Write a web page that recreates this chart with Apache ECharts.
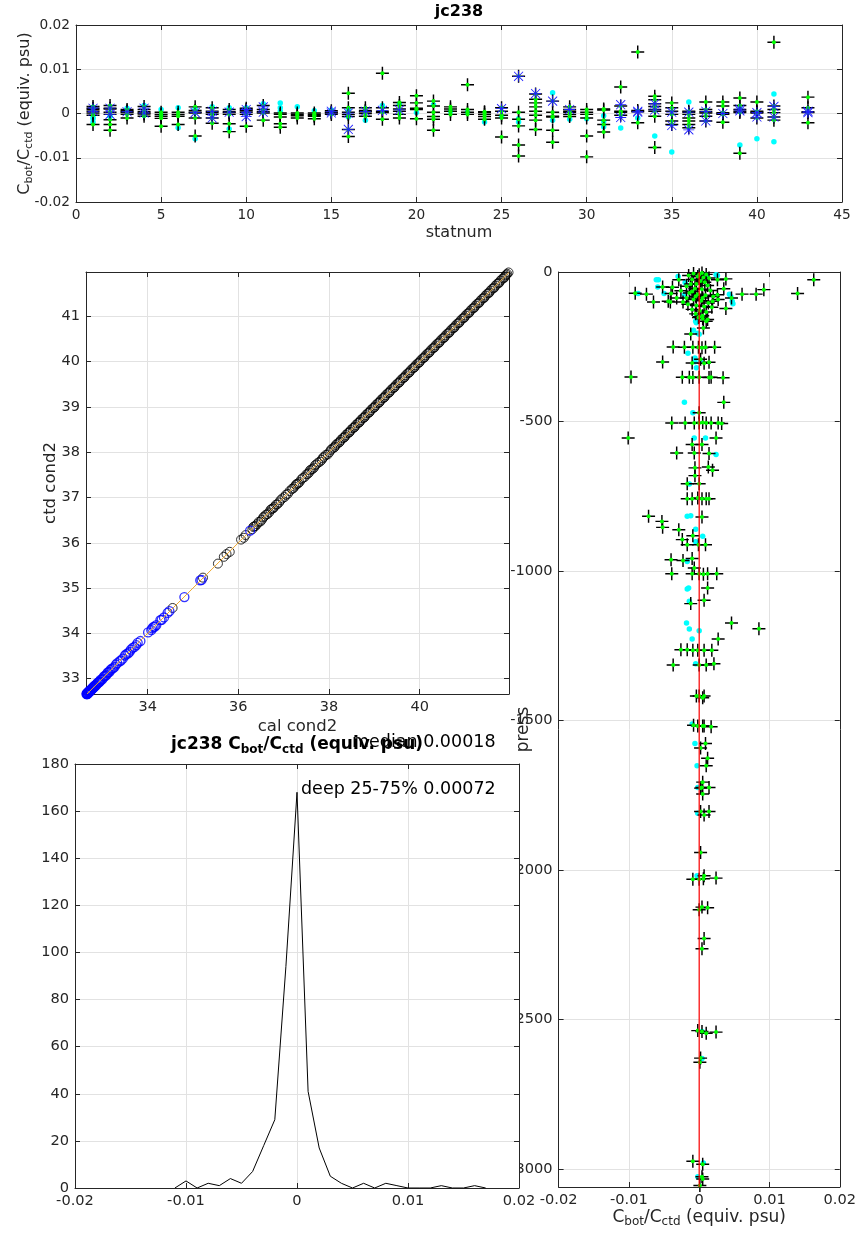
<!DOCTYPE html>
<html><head><meta charset="utf-8">
<script src="https://cdn.jsdelivr.net/npm/echarts@6/dist/echarts.min.js"></script>
<style>html,body{margin:0;padding:0;background:#fff}#c{width:859px;height:1234px}</style>
</head><body><div id="c"></div>
<script>
// ---------- data ----------
const topStations = [1,2,3,4,5,6,7,8,9,10,11,12,13,14,15,16,17,18,19,20,21,22,23,24,25,26,27,28,29,30,31,32,33,34,35,36,37,38,39,40,41,43];
const topGood = [
 [0.0016,0.0012,0.0009,0.0005,0.0001,-0.0004,-0.0025],
 [0.0018,0.0012,0.0010,0.0003,-0.0002,-0.0014,-0.0025,-0.0038],
 [0.0009,0.0006,0.0004,0.0002,-0.0002,-0.0010],
 [0.0016,0.0009,0.0004,0.0001,-0.0001,-0.0006],
 [0.0003,-0.0002,-0.0006,-0.0011,-0.0029],
 [0.0003,-0.0002,-0.0006,-0.0025],
 [0.0015,0.0007,0.0003,0.0001,-0.0010,-0.0051],
 [0.0013,0.0005,0.0002,-0.0002,-0.0010,-0.0022],
 [0.0009,0.0004,0.0002,-0.0002,-0.0023,-0.0041],
 [0.0012,0.0009,0.0006,0.0003,-0.0002,-0.0029],
 [0.0018,0.0009,0.0004,0.0001,-0.0015],
 [0.0001,-0.0002,-0.0008,-0.0023,-0.0031],
 [0.0001,-0.0002,-0.0005,-0.0010],
 [0.0001,-0.0002,-0.0004,-0.0006,-0.0012],
 [0.0006,0.0003,0.0001,-0.0002],
 [0.0046,0.0013,0.0003,-0.0002,-0.0007,-0.0036,-0.0052],
 [0.0013,0.0007,0.0004,0.0000,-0.0006],
 [0.0091,0.0013,0.0005,0.0002,-0.0013],
 [0.0025,0.0018,0.0010,0.0005,-0.0002,-0.0010],
 [0.0040,0.0024,0.0012,0.0009,-0.0012],
 [0.0028,0.0017,0.0003,-0.0007,-0.0013,-0.0038],
 [0.0015,0.0010,0.0005,-0.0002],
 [0.0065,0.0009,0.0003,-0.0002],
 [0.0004,0.0002,-0.0002,-0.0007,-0.0013],
 [0.0013,0.0005,-0.0004,-0.0010,-0.0053],
 [0.0084,0.0003,-0.0013,-0.0028,-0.0071,-0.0096],
 [0.0044,0.0032,0.0024,0.0015,0.0005,-0.0004,-0.0015,-0.0036],
 [0.0028,0.0003,-0.0006,-0.0008,-0.0038,-0.0065],
 [0.0015,0.0009,0.0005,0.0003,-0.0002,-0.0007],
 [0.0009,0.0003,-0.0002,-0.0010,-0.0051,-0.0098],
 [0.0010,0.0008,-0.0015,-0.0025,-0.0042],
 [0.0060,0.0017,0.0005,0.0003,-0.0004],
 [0.0139,0.0007,0.0004,-0.0021],
 [0.0039,0.0031,0.0022,0.0016,0.0009,0.0005,-0.0006,-0.0077],
 [0.0024,0.0013,0.0005,-0.0002,-0.0017,-0.0025],
 [0.0005,0.0003,-0.0002,-0.0010,-0.0017,-0.0025,-0.0032],
 [0.0026,0.0009,0.0004,0.0001,-0.0006,-0.0017],
 [0.0026,0.0017,0.0002,0.0000,-0.0002,-0.0020],
 [0.0035,0.0018,0.0009,0.0005,0.0002,-0.0090],
 [0.0026,0.0005,0.0003,0.0001,-0.0010],
 [0.0161,0.0017,0.0009,0.0002,-0.0008,-0.0015],
 [0.0037,0.0013,0.0004,0.0002,-0.0021]
];
const topCyan = [
 [-0.0008,-0.0012,-0.0020,0.0014],[-0.0006],[0.0012],[0.0018,-0.0004],[0.0009,-0.0004],[0.0013,-0.0032],
 [0.0012,-0.0057],[0.0015],[0.0013,-0.0035],[0.0013],[0.0022],[0.0024,0.0013,0.0005],[0.0015],[0.0006],
 [0.0008],[0.0008,-0.0008],[-0.0015],[0.0018],[0.0022],[0.0002],[0.0020],[0.0005],[0.0003],[-0.0019],
 [-0.0007],[-0.0012,-0.0019],[],[0.0047,-0.0015],[-0.0013],[-0.0012],[-0.0005,-0.0018,-0.0030],[-0.0033],
 [-0.0010],[-0.0051],[-0.0087],[0.0026],[],[],[-0.0071,0.0010],[-0.0057],[0.0044,-0.0064],[]
];
const topBlue = [
 [0.0012,0.0005],[0.0012,-0.0002],[0.0004],[0.0012,0.0001],[],[],[0.0002],[0.0005,-0.0010],[0.0003],
 [0.0009,0.0003,-0.0007],[0.0015,0.0003],[],[],[],[0.0005,0.0001],[0.0001,-0.0036],[0.0005],[0.0007],
 [0.0008],[],[],[],[],[],[0.0011],[0.0084],[0.0045],[0.0028],[0.0009],[],[],[0.0020,-0.0009],
 [0.0005,0.0003],[0.0022,0.0008],[-0.0027,0.0003],[0.0003,-0.0037],[0.0005,-0.0017],[0.0000],
 [0.0010,0.0006],[0.0002,-0.0008],[0.0016,-0.0008],[0.0005,0.0002]
];

const condBlack = [
 [34.55,34.56],[35.22,35.23],[35.55,35.54],[35.68,35.69],[35.74,35.75],[35.81,35.80],[36.06,36.07],[36.12,36.11],
 [36.16,36.17],[36.31,36.30],[36.35,36.36],[36.41,36.41],[36.45,36.46],[36.52,36.51],[36.57,36.58],[36.61,36.62],
 [36.68,36.67],[36.74,36.75],[36.79,36.79],[36.86,36.85],[36.97,36.98],[37.02,37.01],[37.18,37.19],[37.24,37.24],
 [37.29,37.30],[37.35,37.34],[37.39,37.40],[37.46,37.45],[37.50,37.51],[37.56,37.55],[37.61,37.62],[37.67,37.66],
 [37.72,37.73],[37.76,37.77],[37.84,37.83],[37.89,37.90],[37.93,37.94],[38.01,38.00],[38.04,38.05],[38.11,38.10],
 [38.15,38.16],[38.22,38.21],[38.26,38.27],[38.33,38.32],[38.37,38.38],[38.44,38.43],[38.48,38.49],[38.55,38.54],
 [38.59,38.60],[38.66,38.65],[38.70,38.71],[38.77,38.76],[38.81,38.82],[38.88,38.87],[38.92,38.93],[38.99,38.98],
 [39.03,39.04],[39.10,39.09],[39.14,39.15],[39.21,39.20],[39.25,39.26],[39.32,39.31],[39.36,39.37],[39.43,39.42],
 [39.47,39.48],[39.54,39.53],[39.58,39.59],[39.65,39.64],[39.69,39.70],[39.76,39.75],[39.80,39.81],[39.87,39.86],
 [39.91,39.92],[39.98,39.97],[40.02,40.03],[40.09,40.08],[40.13,40.14],[40.20,40.19],[40.24,40.25],[40.31,40.30],
 [40.35,40.36],[40.42,40.41],[40.46,40.47],[40.53,40.52],[40.57,40.58],[40.64,40.63],[40.68,40.69],[40.75,40.74],
 [40.79,40.80],[40.86,40.85],[40.90,40.91],[40.97,40.96],[41.01,41.02],[41.08,41.07],[41.12,41.13],[41.19,41.18],
 [41.23,41.24],[41.30,41.29],[41.34,41.35],[41.41,41.40],[41.45,41.46],[41.52,41.51],[41.56,41.57],[41.63,41.62],
 [41.67,41.68],[41.74,41.73],[41.78,41.79],[41.85,41.84],[41.89,41.90],[41.93,41.94],[41.96,41.97],
 [36.33,36.35],[36.38,36.37],[36.49,36.47],[36.55,36.56],[36.64,36.63],[36.71,36.73],[36.77,36.76],[36.83,36.84],
 [36.90,36.89],[36.93,36.94],[37.05,37.06],[37.09,37.08],[37.13,37.14],[37.21,37.20],[37.27,37.28],[37.32,37.31],
 [37.42,37.43],[37.53,37.52],[37.58,37.60],[37.64,37.63],[37.69,37.71],[37.80,37.79],[37.86,37.87],[37.97,37.95],
 [38.07,38.08],[38.13,38.12],[38.18,38.19],[38.24,38.23],[38.30,38.31],[38.35,38.34],[38.41,38.42],[38.46,38.45],
 [38.52,38.53],[38.57,38.56],[38.63,38.64],[38.68,38.67],[38.74,38.75],[38.79,38.78],[38.85,38.86],[38.90,38.89],
 [38.96,38.97],[39.01,39.00],[39.07,39.08],[39.12,39.11],[39.18,39.19],[39.23,39.22],[39.29,39.30],[39.34,39.33],
 [39.40,39.41],[39.45,39.44],[39.51,39.52],[39.56,39.55],[39.62,39.63],[39.67,39.66],[39.73,39.74],[39.78,39.77],
 [39.84,39.85],[39.89,39.88],[39.95,39.96],[40.00,39.99],[40.06,40.07],[40.11,40.10],[40.17,40.18],[40.22,40.21],
 [40.28,40.29],[40.33,40.32],[40.39,40.40],[40.44,40.43],[40.50,40.51],[40.55,40.54],[40.61,40.62],[40.66,40.65],
 [40.72,40.73],[40.77,40.76],[40.83,40.84],[40.88,40.87],[40.94,40.95],[40.99,40.98],[41.05,41.06],[41.10,41.09],
 [41.16,41.17],[41.21,41.20],[41.27,41.28],[41.32,41.31],[41.38,41.39],[41.43,41.42],[41.49,41.50],[41.54,41.53],
 [41.60,41.61],[41.65,41.64],[41.71,41.72],[41.76,41.75],[41.82,41.83],[41.87,41.86],[41.91,41.92]
];
const condBlue = [
 [32.66,32.66],[32.67,32.68],[32.68,32.67],[32.69,32.70],[32.71,32.70],[32.72,32.73],[32.74,32.73],[32.75,32.76],
 [32.77,32.77],[32.79,32.80],[32.82,32.81],[32.84,32.85],[32.87,32.86],[32.90,32.91],[32.93,32.93],[32.96,32.97],
 [32.99,32.98],[33.03,33.04],[33.07,33.06],[33.11,33.12],[33.16,33.15],[33.21,33.22],[33.27,33.26],[33.33,33.34],
 [33.38,33.38],[33.45,33.44],[33.50,33.51],[33.57,33.56],[33.63,33.64],[33.71,33.70],[33.78,33.79],[33.84,33.83],
 [34.01,34.02],[34.08,34.07],[34.13,34.14],[34.19,34.18],[34.28,34.29],[34.36,34.35],[34.48,34.49],[34.81,34.80],
 [35.16,35.17],[35.19,35.18],[36.26,36.27],
 [32.65,32.66],[32.66,32.67],[32.67,32.66],[32.68,32.69],[32.70,32.69],[32.70,32.71],[32.71,32.72],[32.73,32.72],
 [32.73,32.74],[32.76,32.75],[32.78,32.79],[32.80,32.79],[32.81,32.82],[32.83,32.84],[32.85,32.84],[32.88,32.89],
 [32.92,32.91],[32.95,32.94],[33.01,33.00],[33.05,33.06],[33.09,33.08],[33.13,33.14],[33.18,33.19],[33.24,33.23],
 [33.30,33.31],[33.41,33.40],[33.53,33.54],[33.60,33.59],[33.67,33.68],[33.75,33.74],[34.10,34.11],[34.16,34.15],
 [34.31,34.30],[34.44,34.45]
];
const oneToOne = [[32.66,32.66],[41.97,41.97]];

const histBins = [-0.011,-0.010,-0.009,-0.008,-0.007,-0.006,-0.005,-0.004,-0.003,-0.002,-0.001,0,0.001,0.002,0.003,0.004,0.005,0.006,0.007,0.008,0.009,0.010,0.011,0.012,0.013,0.014,0.015,0.016,0.017];
const histCounts = [0,3,0,2,1,4,2,7,18,29,94,168,41,17,5,2,0,2,0,2,1,0,0,0,1,0,0,1,0];

const profGood = [
 [0.0163,-26],[0.0140,-72],[0.0092,-59],[0.0081,-74],[0.0061,-74],[0.0038,-23],[0.0046,-87],[0.0038,-122],[0.0027,-92],[0.0035,-56],
 [-0.0052,-50],[-0.0091,-71],[-0.0075,-74],[-0.0065,-100],[-0.0044,-98],[-0.0040,-72],[-0.0029,-26],[-0.0038,-51],[-0.0026,-63],[-0.0012,-40],
 [-0.0010,-65],[0.0000,-9],[0.0014,-20],[0.0026,-26],[0.0026,-76],[0.0019,-98],[0.0005,-87],[-0.0005,-81],[-0.0018,-87],[-0.0023,-100],
 [-0.0032,-87],[-0.0041,-100],[-0.0015,-12],[-0.0008,-5],[0.0004,-3],[0.0010,-8],[-0.0002,-15],[0.0006,-18],[-0.0010,-25],[0.0002,-30],
 [0.0008,-34],[-0.0004,-40],[0.0012,-45],[-0.0018,-48],[-0.0006,-55],[0.0004,-58],[0.0016,-62],[-0.0014,-70],[-0.0002,-74],[0.0009,-78],
 [0.0020,-82],[-0.0008,-92],[0.0003,-96],[0.0013,-104],[-0.0016,-108],[-0.0004,-112],[0.0007,-115],[0.0018,-118],[-0.0010,-125],[0.0001,-130],
 [0.0010,-134],[-0.0005,-140],[0.0005,-146],[0.0000,-150],[0.0012,-159],[0.0010,-165],[0.0006,-187],[-0.0012,-207],[-0.0001,-152],[0.0005,-156],
 [-0.0037,-251],[-0.0021,-252],[-0.0009,-252],[-0.0001,-252],[0.0004,-253],[0.0009,-252],[0.0022,-252],
 [-0.0052,-301],[-0.0010,-304],[0.0002,-292],[0.0014,-302],[0.0007,-305],
 [-0.0097,-351],[-0.0024,-352],[-0.0014,-352],[-0.0009,-353],[0.0000,-352],[0.0014,-353],[0.0017,-352],[0.0034,-354],
 [0.0035,-436],[0.0000,-471],
 [-0.0039,-505],[-0.0020,-505],[-0.0007,-505],[0.0000,-505],[0.0005,-503],[0.0010,-505],[0.0017,-505],[0.0027,-505],[0.0032,-507],
 [-0.0101,-555],[0.0024,-555],[-0.0010,-577],[0.0004,-577],[-0.0032,-605],[-0.0007,-605],[0.0014,-607],[-0.0006,-655],[0.0013,-652],[0.0019,-663],
 [-0.0006,-681],[-0.0017,-708],[0.0000,-708],
 [-0.0017,-758],[-0.0010,-758],[-0.0002,-756],[0.0004,-758],[0.0010,-758],[0.0014,-758],
 [-0.0072,-817],[0.0004,-819],[-0.0053,-834],[-0.0052,-854],[-0.0029,-862],[-0.0009,-882],[-0.0024,-895],[-0.0017,-912],[-0.0001,-912],[0.0009,-912],
 [-0.0040,-962],[-0.0023,-965],[-0.0010,-958],[-0.0007,-990],
 [-0.0039,-1009],[-0.0010,-1009],[0.0000,-1009],[0.0006,-1011],[0.0012,-1009],[0.0025,-1009],
 [0.0012,-1057],[0.0007,-1098],[-0.0012,-1109],[0.0046,-1174],[0.0085,-1193],[0.0027,-1227],
 [-0.0026,-1263],[-0.0017,-1263],[-0.0009,-1265],[-0.0002,-1265],[0.0007,-1265],[0.0018,-1265],
 [-0.0037,-1314],[0.0000,-1314],[0.0010,-1314],[0.0021,-1310],
 [-0.0004,-1418],[0.0000,-1418],[0.0005,-1424],[0.0007,-1418],
 [-0.0008,-1516],[-0.0002,-1518],[0.0005,-1518],[0.0007,-1518],[0.0017,-1521],
 [0.0009,-1577],[0.0002,-1592],[0.0012,-1626],[0.0010,-1651],
 [0.0005,-1706],[0.0004,-1724],[0.0014,-1724],[0.0005,-1746],[0.0002,-1726],
 [0.0002,-1804],[0.0007,-1816],[0.0014,-1804],[0.0002,-1941],
 [-0.0009,-2031],[0.0000,-2031],[0.0006,-2029],[0.0007,-2019],[0.0024,-2027],
 [0.0004,-2124],[0.0012,-2126],[0.0000,-2133],[0.0007,-2229],[0.0004,-2263],
 [-0.0002,-2537],[0.0004,-2540],[0.0010,-2546],[0.0024,-2542],[0.0002,-2629],[0.0001,-2643],
 [-0.0009,-2974],[0.0005,-2984],[0.0004,-3026],[0.0005,-3033],[0.0001,-3055]
];
const profCyan = [
 [-0.0061,-26],[-0.0058,-26],[-0.0059,-50],[-0.0087,-72],[-0.0050,-72],[0.0043,-74],[0.0047,-98],[-0.0021,-76],[0.0010,-9],[0.0024,-9],
 [-0.0030,-15],[-0.0020,-35],[0.0026,-12],[0.0045,-83],[0.0048,-106],[-0.0004,-150],[-0.0004,-170],[0.0000,-208],[-0.0016,-272],[-0.0006,-300],
 [-0.0005,-165],[-0.0008,-195],[-0.0002,-205],[-0.0006,-288],[0.0002,-296],[-0.0004,-320],[-0.0021,-436],[-0.0009,-471],[-0.0007,-555],[0.0009,-555],
 [0.0024,-610],[-0.0014,-709],[-0.0017,-817],[-0.0012,-815],[-0.0005,-860],[0.0005,-884],[-0.0005,-902],[-0.0017,-968],[-0.0015,-1057],[-0.0017,-1060],
 [-0.0014,-1101],[-0.0018,-1174],[-0.0014,-1194],[-0.0010,-1227],[0.0000,-1200],
 [-0.0005,-1310],[-0.0010,-1512],[-0.0006,-1577],[-0.0003,-1651],[-0.0002,-1724],[-0.0002,-1810],[-0.0003,-2019],[0.0004,-2540],[0.0004,-2630],[0.0006,-2980],[-0.0002,-3026]
];
const profRef = [[0,0],[0,-3060]];

const topXTicks = [0,5,10,15,20,25,30,35,40,45];
const condXTicks = [34,36,38,40];
const condYTicks = [33,34,35,36,37,38,39,40,41];
const pressTicks = [0,-500,-1000,-1500,-2000,-2500,-3000];

// ---------- styling helpers ----------
const AX = '#262626', GRIDC = '#e2e2e2', FONT = 'DejaVu Sans';
const PLUS = 'path://M0,7.1H7.1V0H8.9V7.1H16V8.9H8.9V16H7.1V8.9H0Z';
const STAR = 'path://M7.4,0H8.6V16H7.4Z M0,7.4H16V8.6H0Z M1,1.85L1.85,1L15,14.15L14.15,15Z M14.15,1L15,1.85L1.85,15L1,14.15Z';
const num = v => String(+(+v).toFixed(5));

function ax(gridIndex, position, min, max, o) {
  o = o || {};
  const mirror = position === 'top' || position === 'right';
  const a = {
    type: 'value', gridIndex, position, min, max, z: o.z || 0,
    axisLine: { show: true, onZero: false, lineStyle: { color: AX, width: 1 } },
    axisTick: { show: true, inside: true, length: 5, lineStyle: { color: AX, width: 1 } },
    axisLabel: { show: !mirror, color: AX, fontSize: o.fs || 14, fontFamily: FONT, margin: o.margin || 6, formatter: num },
    splitLine: { show: !mirror, lineStyle: { color: GRIDC, width: 1 } }
  };
  if (o.interval != null) a.interval = o.interval;
  if (o.custom) { a.axisLabel.customValues = o.custom; a.axisTick.customValues = o.custom; }
  if (o.name) {
    a.name = o.name; a.nameLocation = 'middle'; a.nameGap = o.nameGap; a.nameMoveOverlap = false;
    a.nameTextStyle = { color: AX, fontSize: o.nfs || 16, fontFamily: FONT, rich: o.rich };
  }
  return a;
}
function sub(main, s) {
  return {
    n: { fontSize: main, fontFamily: FONT, color: AX, lineHeight: main, verticalAlign: 'top' },
    s: { fontSize: s, fontFamily: FONT, color: AX, lineHeight: s, verticalAlign: 'top', padding: [Math.round(main*0.42),0,0,0] }
  };
}
const cLabel = '{n|C}{s|bot}{n|/C}{s|ctd}{n| (equiv. psu)}';

// ---------- build series data ----------
const tGood = [], tCyan = [], tBlue = [];
topStations.forEach((st, i) => {
  topGood[i].forEach(v => tGood.push([st, v]));
  topCyan[i].forEach(v => tCyan.push([st, v]));
  topBlue[i].forEach(v => tBlue.push([st, v]));
});

const xAxis = [
  ax(0, 'bottom', 0, 45, { interval: 5, fs: 13.7, name: 'statnum', nameGap: 23, nfs: 16 }),
  ax(0, 'top', 0, 45, { interval: 5 }),
  ax(1, 'bottom', 32.64, 41.97, { custom: condXTicks, fs: 14.5, name: 'cal cond2', nameGap: 24, nfs: 16.5 }),
  ax(1, 'top', 32.64, 41.97, { custom: condXTicks }),
  ax(2, 'bottom', -0.02, 0.02, { interval: 0.01, fs: 14.6, z: 3 }),
  ax(2, 'top', -0.02, 0.02, { interval: 0.01, z: 3 }),
  ax(3, 'bottom', -0.02, 0.02, { interval: 0.01, fs: 14.6, name: cLabel, nameGap: 22, rich: sub(17, 12) }),
  ax(3, 'top', -0.02, 0.02, { interval: 0.01 })
];
const yAxis = [
  ax(0, 'left', -0.02, 0.02, { interval: 0.01, fs: 13.7, name: cLabel, nameGap: 43, rich: sub(16, 11) }),
  ax(0, 'right', -0.02, 0.02, { interval: 0.01 }),
  ax(1, 'left', 32.66, 41.98, { custom: condYTicks, fs: 14.5, name: 'ctd cond2', nameGap: 27, nfs: 16.5 }),
  ax(1, 'right', 32.66, 41.98, { custom: condYTicks }),
  ax(2, 'left', 0, 180, { interval: 20, fs: 14.6, z: 3 }),
  ax(2, 'right', 0, 180, { interval: 20, z: 3 }),
  ax(3, 'left', -3060, 0, { custom: pressTicks, fs: 14.6, name: 'press', nameGap: 27, nfs: 17 }),
  ax(3, 'right', -3060, 0, { custom: pressTicks })
];

const sc = (xi, data, symbol, size, color, z) => ({
  type: 'scatter', xAxisIndex: xi, yAxisIndex: xi, data, symbol, symbolSize: size,
  itemStyle: { color, opacity: 1 }, silent: true, z, animation: false
});

const series = [
  sc(0, tCyan, 'circle', 5.5, '#00ffff', 2),
  sc(0, tGood, PLUS, 13, '#000000', 3),
  sc(0, tGood, 'circle', 4, '#00ff00', 4),
  sc(0, tBlue, STAR, 11, '#2020ff', 5),
  {
    type: 'scatter', xAxisIndex: 2, yAxisIndex: 2, data: condBlack, symbol: 'circle', symbolSize: 9,
    itemStyle: { color: 'rgba(0,0,0,0)', borderColor: '#000', borderWidth: 1 }, silent: true, z: 2
  },
  {
    type: 'scatter', xAxisIndex: 2, yAxisIndex: 2, data: condBlue, symbol: 'circle', symbolSize: 9,
    itemStyle: { color: 'rgba(0,0,0,0)', borderColor: '#0000ff', borderWidth: 1.3 }, silent: true, z: 3
  },
  {
    type: 'line', xAxisIndex: 2, yAxisIndex: 2, data: oneToOne, showSymbol: false, symbol: 'none',
    lineStyle: { color: '#eda730', width: 1 }, silent: true, z: 4
  },
  {
    type: 'line', xAxisIndex: 4, yAxisIndex: 4, data: histBins.map((b, i) => [b, histCounts[i]]),
    showSymbol: false, symbol: 'none', lineStyle: { color: '#000', width: 1 }, silent: true, z: 5
  },
  sc(6, profCyan, 'circle', 5.5, '#00ffff', 2),
  sc(6, profGood, PLUS, 13, '#000000', 3),
  sc(6, profGood, 'circle', 4, '#00ff00', 4),
  {
    type: 'line', xAxisIndex: 6, yAxisIndex: 6, data: profRef, showSymbol: false, symbol: 'none',
    lineStyle: { color: '#ff0000', width: 1.2 }, silent: true, z: 5
  }
];

const graphic = [
  { type: 'rect', shape: { x: 75, y: 764, width: 444, height: 424 }, style: { fill: '#fff' }, z: 1, silent: true },
  { type: 'text', x: 459, y: 12, z: 10, style: { text: 'jc238', fontSize: 16, fontWeight: 'bold', fontFamily: FONT, fill: '#000', align: 'center', verticalAlign: 'middle' } },
  { type: 'text', x: 297, y: 745, z: 10, style: {
      text: '{n|jc238 C}{s|bot}{n|/C}{s|ctd}{n| (equiv. psu)}', align: 'center', verticalAlign: 'middle',
      rich: {
        n: { fontSize: 17, fontWeight: 'bold', fontFamily: FONT, fill: '#000', lineHeight: 17, verticalAlign: 'top' },
        s: { fontSize: 12, fontWeight: 'bold', fontFamily: FONT, fill: '#000', lineHeight: 12, verticalAlign: 'top', padding: [7,0,0,0] }
      } } },
  { type: 'text', x: 352, y: 742, z: 11, style: { text: 'median 0.00018', fontSize: 17.5, fontFamily: FONT, fill: '#000', align: 'left', verticalAlign: 'middle' } },
  { type: 'text', x: 301, y: 789, z: 11, style: { text: 'deep 25-75% 0.00072', fontSize: 17.5, fontFamily: FONT, fill: '#000', align: 'left', verticalAlign: 'middle' } }
];

const chart = echarts.init(document.getElementById('c'), null, { renderer: 'canvas' });
chart.setOption({
  animation: false,
  backgroundColor: '#fff',
  textStyle: { fontFamily: FONT },
  grid: [
    { left: 76, top: 25, width: 766, height: 177 },
    { left: 86, top: 272, width: 423, height: 422 },
    { left: 75, top: 764, width: 444, height: 424 },
    { left: 558.6, top: 272, width: 283, height: 915 }
  ],
  xAxis, yAxis, series, graphic
});
</script></body></html>
